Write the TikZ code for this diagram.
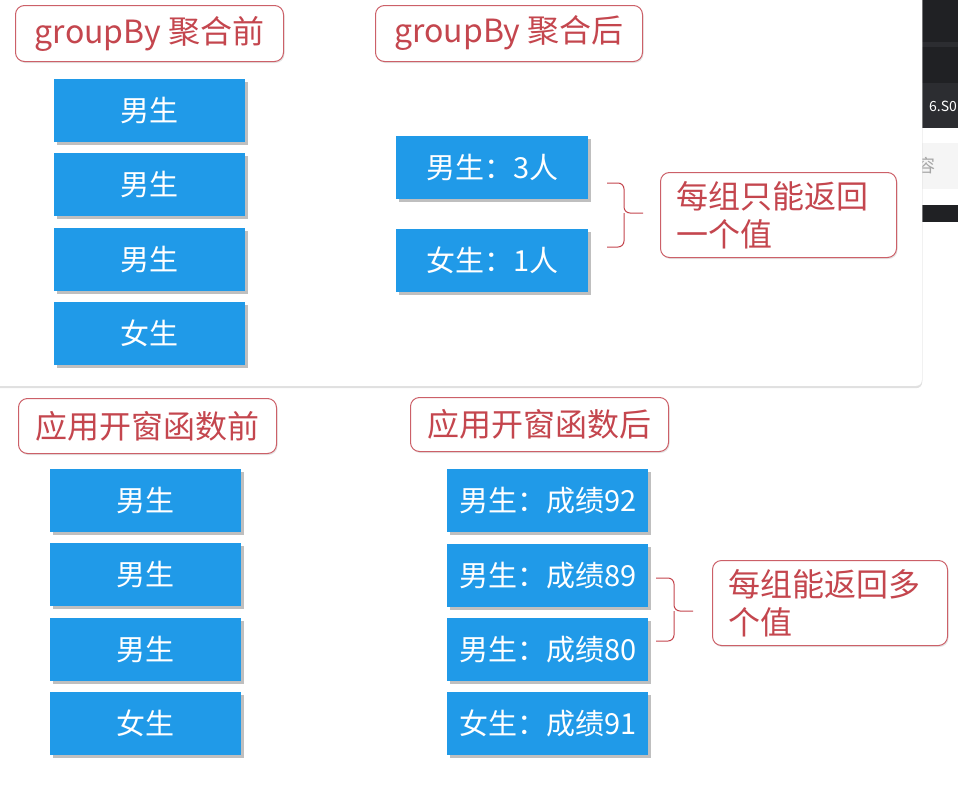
\documentclass[tikz,border=0pt]{standalone}
\usepackage{fontspec}
\setmainfont{Noto Sans CJK SC}
\usetikzlibrary{shadows}
\definecolor{boxblue}{RGB}{32,154,232}
\definecolor{lblred}{RGB}{196,70,78}
\definecolor{lblborder}{RGB}{204,96,104}
\definecolor{darkbar}{RGB}{32,33,36}
\definecolor{darkbarb}{RGB}{44,45,49}
\begin{document}
\begin{tikzpicture}[x=1pt,y=-1pt,
  blk/.style={fill=boxblue, text=white, minimum height=63pt, inner sep=0pt, anchor=north west,
    font=\fontsize{29}{34}\selectfont,
    drop shadow={shadow xshift=3pt, shadow yshift=-3pt, fill=black, opacity=0.25}},
  lbl/.style={draw=lblborder, line width=1pt, rounded corners=9pt, text=lblred, fill=white,
    inner sep=0pt, anchor=north west, font=\fontsize{32}{38}\selectfont,
    drop shadow={shadow xshift=1pt, shadow yshift=-1.5pt, fill=black, opacity=0.10}},
  note/.style={lbl, align=left, text width=204pt, inner xsep=16pt, minimum height=85pt,
    font=\fontsize{32}{38}\selectfont},
  brc/.style={draw=lblred, line width=1pt, rounded corners=6pt}]
\useasboundingbox (0,0) rectangle (958,790);
\fill[white] (0,0) rectangle (958,790);
% screenshot strip at the top right
\begin{scope}
  \clip (900,0) rectangle (958,230);
  \fill[darkbar] (900,0) rectangle (958,83);
  \fill[darkbarb] (900,42) rectangle (958,47);
  \fill[darkbarb] (900,83) rectangle (958,128);
  \fill[gray!8] (900,143) rectangle (958,189);
  \node[text=gray!70, inner sep=0pt, font=\fontsize{18}{20}\selectfont] (sr) at (926,166) {容};
  \fill[darkbar] (900,205) rectangle (958,222);
\end{scope}
\node[text=white, anchor=west, inner sep=0pt, font=\fontsize{14}{16}\selectfont] (sx) at (929,106) {6.S0};
% top panel
\node[draw=gray!25, fill=white, rounded corners=6pt, anchor=north west, inner sep=0pt,
  minimum width=932pt, minimum height=396pt,
  drop shadow={shadow xshift=0pt, shadow yshift=-2pt, fill=black, opacity=0.12}] (panel) at (-10,-10) {};
% labels
\node[lbl, minimum width=268pt, minimum height=56pt] (l1) at (15,5) {groupBy 聚合前};
\node[lbl, minimum width=267pt, minimum height=56pt] (l2) at (375,5) {groupBy 聚合后};
\node[lbl, minimum width=258pt, minimum height=55pt] (l3) at (18,398) {应用开窗函数前};
\node[lbl, minimum width=258pt, minimum height=54pt] (l4) at (410,397) {应用开窗函数后};
% top-left boxes
\node[blk, minimum width=191pt] (a1) at (54,79) {男生};
\node[blk, minimum width=191pt] (a2) at (54,153) {男生};
\node[blk, minimum width=191pt] (a3) at (54,228) {男生};
\node[blk, minimum width=191pt] (a4) at (54,302) {女生};
% top-right boxes
\node[blk, minimum width=192pt] (b1) at (396,136) {男生：3人};
\node[blk, minimum width=192pt] (b2) at (396,229) {女生：1人};
% bottom-left boxes
\node[blk, minimum width=191pt] (c1) at (50,469) {男生};
\node[blk, minimum width=191pt] (c2) at (50,543) {男生};
\node[blk, minimum width=191pt] (c3) at (50,618) {男生};
\node[blk, minimum width=191pt] (c4) at (50,692) {女生};
% bottom-right boxes
\node[blk, minimum width=201pt] (d1) at (447,469) {男生：成绩92};
\node[blk, minimum width=201pt] (d2) at (447,544) {男生：成绩89};
\node[blk, minimum width=201pt] (d3) at (447,618) {男生：成绩80};
\node[blk, minimum width=201pt] (d4) at (447,692) {女生：成绩91};
% notes
\node[note] (n1) at (660,172) {每组只能返回\\一个值};
\node[note, text width=203pt] (n2) at (712,560) {每组能返回多\\个值};
% braces
\coordinate (t1) at (607,183);
\coordinate (m1) at (624,213);
\coordinate (b1e) at (607,247);
\coordinate (p1) at (643,213);
\draw[brc] (t1) -| (m1) -- (p1);
\draw[brc] (b1e) -| (m1);
\coordinate (t2) at (656,578);
\coordinate (m2) at (674,611);
\coordinate (b2e) at (656,641);
\coordinate (p2) at (693,611);
\draw[brc] (t2) -| (m2) -- (p2);
\draw[brc] (b2e) -| (m2);
\end{tikzpicture}
\end{document}
